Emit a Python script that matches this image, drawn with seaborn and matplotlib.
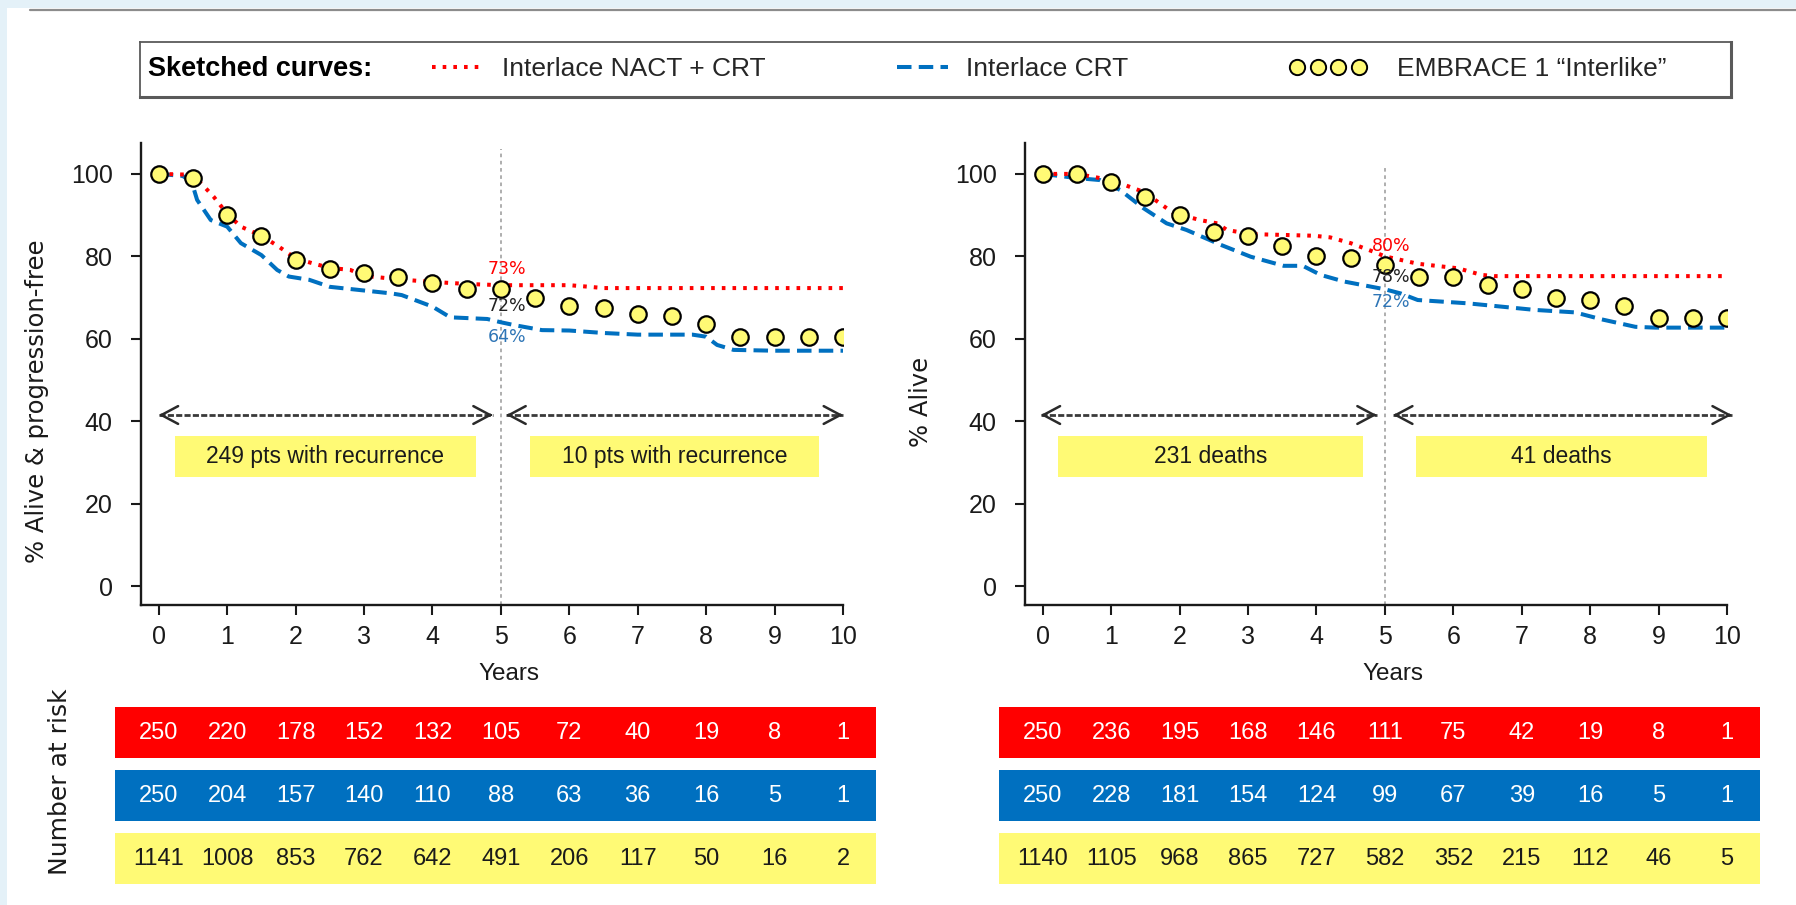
import matplotlib
matplotlib.use("Agg")
import matplotlib.pyplot as plt
from matplotlib.lines import Line2D
from matplotlib.legend import Legend
from matplotlib.patches import Rectangle
import numpy as np
import seaborn as sns

# ---------------- data ----------------
half_years = [0, 0.5, 1, 1.5, 2, 2.5, 3, 3.5, 4, 4.5, 5,
              5.5, 6, 6.5, 7, 7.5, 8, 8.5, 9, 9.5, 10]

# EMBRACE 1 "Interlike" cohort (yellow dots)
embrace_pfs = [100, 99, 90, 85, 79, 77, 76, 75, 73.5, 72, 72,
               70, 68, 67.5, 66, 65.5, 63.5, 60.5, 60.5, 60.5, 60.5]
embrace_os = [100, 100, 98, 94.5, 90, 86, 85, 82.5, 80, 79.5, 78,
              75, 75, 73, 72, 70, 69.5, 68, 65, 65, 65]

# Interlace NACT + CRT, progression-free survival (sketched)
nact_pfs_t = [0, 0.5, 0.8, 1, 1.2, 1.5, 1.75, 2, 2.25, 2.5, 2.8, 3,
              3.5, 4, 4.5, 5, 6, 6.3, 6.5, 10]
nact_pfs = [100, 99.8, 94.5, 90.3, 87.2, 85, 82.4, 79.5, 78.3, 77.2, 76.7, 75.3,
            74.4, 73.8, 73.3, 73, 73, 72.6, 72.3, 72.3]

# Interlace CRT, progression-free survival (sketched)
crt_pfs_t = [0, 0.35, 0.48, 0.56, 0.76, 1.0, 1.2, 1.5, 1.73, 1.9, 2.2, 2.5,
             2.95, 3.4, 3.55, 4.0, 4.26, 4.8, 5.0, 5.2, 5.6, 6.0, 6.5, 7.0,
             7.8, 8.0, 8.16, 8.4, 9.0, 10]
crt_pfs = [100, 99.5, 98.1, 93.7, 88.8, 87.2, 83.2, 80.3, 76.7, 75.1, 74.3, 72.6,
           71.8, 71.0, 70.6, 67.8, 65.2, 64.8, 64.0, 63.3, 62.1, 62.0, 61.4, 61.0,
           61.0, 60.5, 58.5, 57.3, 57.1, 57.1]

# Interlace NACT + CRT, overall survival (sketched)
nact_os_t = [0, 0.5, 1.0, 1.48, 1.91, 2.3, 2.55, 2.69, 3.04, 3.5, 3.96, 4.2,
             4.5, 4.82, 5.0, 5.48, 6.07, 6.41, 6.6, 10]
nact_os = [100, 100, 98.5, 95.6, 90.5, 88.8, 88.0, 86.4, 85.4, 85.2, 85.0, 84.6,
           83.2, 81.2, 80.0, 78.2, 77.1, 75.5, 75.2, 75.2]

# Interlace CRT, overall survival (sketched)
crt_os_t = [0, 0.49, 0.84, 1.13, 1.47, 1.81, 2.1, 2.6, 3.04, 3.52, 3.8, 4.06,
            4.4, 5.0, 5.23, 5.48, 6.21, 7.19, 7.78, 8.17, 8.66, 8.95, 10]
crt_os = [100, 99.0, 98.5, 96.1, 91.7, 88.0, 86.4, 82.8, 79.9, 77.7, 77.7, 75.5,
          73.9, 72.0, 71.0, 69.4, 68.6, 67.0, 66.4, 64.7, 62.9, 62.7, 62.7]

# Numbers at risk
risk_years = [0, 1, 2, 3, 4, 5, 6, 7, 8, 9, 10]
risk_pfs_nact = [250, 220, 178, 152, 132, 105, 72, 40, 19, 8, 1]
risk_pfs_crt = [250, 204, 157, 140, 110, 88, 63, 36, 16, 5, 1]
risk_pfs_embrace = [1141, 1008, 853, 762, 642, 491, 206, 117, 50, 16, 2]
risk_os_nact = [250, 236, 195, 168, 146, 111, 75, 42, 19, 8, 1]
risk_os_crt = [250, 228, 181, 154, 124, 99, 67, 39, 16, 5, 1]
risk_os_embrace = [1140, 1105, 968, 865, 727, 582, 352, 215, 112, 46, 5]

tick_years = [0, 1, 2, 3, 4, 5, 6, 7, 8, 9, 10]
tick_pct = [0, 20, 40, 60, 80, 100]

landmark_year = 5
pfs_periods = [(0.0, 4.88), (5.08, 10.0)]
os_periods = [(-0.03, 4.88), (5.12, 10.07)]
pfs_notes = ["249 pts with recurrence", "10 pts with recurrence"]
os_notes = ["231 deaths", "41 deaths"]
pfs_note_spans = [(0.23, 4.63), (5.43, 9.65)]
os_note_spans = [(0.22, 4.68), (5.45, 9.71)]

legend_labels = ["Interlace NACT + CRT", "Interlace CRT", "EMBRACE 1 \u201cInterlike\u201d"]

# ---------------- style ----------------
RED = "#FF0000"
BLUE = "#0070C0"
LABEL_BLUE = "#2E75B6"
YELLOW = "#FFFA75"
INK = "#1a1a1a"
SKY = "#E4F1F8"

sns.set_theme(style="ticks")
plt.rcParams["font.family"] = ["DejaVu Sans"]
plt.rcParams["lines.dash_capstyle"] = "butt"

BODY = ["Liberation Sans", "DejaVu Sans"]

W, H = 1796, 905
fig = plt.figure(figsize=(W / 100, H / 100), dpi=100, facecolor="white")


def px_axes(left, top, right, bottom):
    return fig.add_axes([left / W, 1 - bottom / H, (right - left) / W, (bottom - top) / H])


# page frame: pale blue margins and a thin rule at the top
fig.patches.append(Rectangle((0, 0), 7 / W, 1, transform=fig.transFigure,
                             facecolor=SKY, edgecolor="none", zorder=0))
fig.patches.append(Rectangle((0, 1 - 8 / H), 1, 8 / H, transform=fig.transFigure,
                             facecolor=SKY, edgecolor="none", zorder=0))
fig.add_artist(Line2D([30 / W, 1], [1 - 10 / H, 1 - 10 / H], color="#8c8c8c", lw=1.6))

XLIM = (-0.26, 10)
YLIM = (-4.6, 107.5)

NACT_STYLE = dict(color=RED, lw=2.9, linestyle=(0, (0.9, 1.75)))
CRT_STYLE = dict(color=BLUE, lw=2.9, linestyle=(0, (3.6, 1.8)))


def draw_panel(ax, nact_t, nact_v, crt_t, crt_v, emb_v, ylabel,
               periods, notes, spans, vline_top, offsets):
    sns.lineplot(x=crt_t, y=crt_v, ax=ax, estimator=None, sort=False, zorder=3, **CRT_STYLE)
    sns.lineplot(x=nact_t, y=nact_v, ax=ax, estimator=None, sort=False, zorder=4, **NACT_STYLE)
    sns.scatterplot(x=half_years, y=emb_v, ax=ax, s=140, color=YELLOW,
                    edgecolor="black", linewidth=1.6, zorder=5)

    ax.set_xlim(*XLIM)
    ax.set_ylim(*YLIM)
    ax.set_xticks(tick_years)
    ax.set_yticks(tick_pct)
    sns.despine(ax=ax)
    for side in ("left", "bottom"):
        ax.spines[side].set_linewidth(1.7)
        ax.spines[side].set_color(INK)
    ax.tick_params(axis="both", direction="out", length=7.5, width=1.5, color=INK,
                   labelsize=18, labelcolor=INK)
    ax.tick_params(axis="y", pad=13)
    ax.tick_params(axis="x", pad=7)
    for lab in ax.get_xticklabels() + ax.get_yticklabels():
        lab.set_family(BODY)

    ax.set_xlabel("Years", fontsize=17.5, family=BODY, color=INK)
    ax.xaxis.set_label_coords(0.524, -0.125)
    ax.set_ylabel(ylabel, fontsize=17.5, color=INK)
    ax.yaxis.set_label_coords(-0.131, 0.44)

    # landmark at 5 years
    ax.axvline(landmark_year, ymin=0, ymax=(vline_top - YLIM[0]) / (YLIM[1] - YLIM[0]),
               color="#a8a8a8", lw=1.3, ls=(0, (2, 2)), zorder=1)

    # period arrows and event counts
    arrow_y = 41.5
    for (x0, x1) in periods:
        ax.plot([x0, x1], [arrow_y, arrow_y], color="#3a3a3a", lw=2.0,
                ls=(0, (2.2, 0.8)), clip_on=False, zorder=2)
        for tip, back in ((x0, x0 + 0.05), (x1, x1 - 0.05)):
            ax.annotate("", xy=(tip, arrow_y), xytext=(back, arrow_y),
                        arrowprops=dict(arrowstyle="->,head_length=0.6,head_width=0.32",
                                        color="#2a2a2a", lw=1.8, shrinkA=0, shrinkB=0,
                                        mutation_scale=20),
                        annotation_clip=False)
    for text, (x0, x1) in zip(notes, spans):
        ax.add_patch(Rectangle((x0, 26.5), x1 - x0, 9.9, facecolor=YELLOW,
                               edgecolor="none", zorder=2))
        ax.text((x0 + x1) / 2, 31.45, text, ha="center", va="center",
                fontsize=16.5, family=BODY, color=INK, zorder=3)

    # 5-year values
    v_nact = np.interp(landmark_year, nact_t, nact_v)
    v_crt = np.interp(landmark_year, crt_t, crt_v)
    v_emb = emb_v[half_years.index(landmark_year)]
    for val, off, col in ((v_nact, offsets[0], RED), (v_emb, offsets[1], "#222222"),
                          (v_crt, offsets[2], LABEL_BLUE)):
        ax.text(landmark_year + 0.09, val + off, f"{val:.0f}%", ha="center", va="center",
                fontsize=12.5, color=col, zorder=6)


ax_pfs = px_axes(141, 143, 843, 605)
ax_os = px_axes(1025, 143, 1727, 605)
draw_panel(ax_pfs, nact_pfs_t, nact_pfs, crt_pfs_t, crt_pfs, embrace_pfs,
           "% Alive & progression-free", pfs_periods, pfs_notes, pfs_note_spans,
           106, (3.9, -4.0, -3.6))
draw_panel(ax_os, nact_os_t, nact_os, crt_os_t, crt_os, embrace_os,
           "% Alive", os_periods, os_notes, os_note_spans,
           102, (2.4, -2.9, -3.2))

# ---------------- numbers at risk ----------------
px_per_year = (843 - 141) / (XLIM[1] - XLIM[0])


def draw_risk_table(left, right, plot_left, rows):
    ax = px_axes(left, 707, right, 884)
    zero_px = plot_left - XLIM[0] * px_per_year
    ax.set_xlim((left - zero_px) / px_per_year, (right - zero_px) / px_per_year)
    ax.set_ylim(177, 0)
    ax.axis("off")
    for i, (vals, face, ink) in enumerate(rows):
        top = i * 63
        ax.axhspan(top, top + 51, facecolor=face, edgecolor="none")
        for yr, v in zip(risk_years, vals):
            ax.text(yr, top + 26, str(v), ha="center", va="center",
                    fontsize=17, family=BODY, color=ink)


draw_risk_table(115, 876, 141, [(risk_pfs_nact, RED, "white"),
                                (risk_pfs_crt, BLUE, "white"),
                                (risk_pfs_embrace, YELLOW, INK)])
draw_risk_table(999, 1760, 1025, [(risk_os_nact, RED, "white"),
                                  (risk_os_crt, BLUE, "white"),
                                  (risk_os_embrace, YELLOW, INK)])
fig.text(60 / W, 1 - 782 / H, "Number at risk", rotation=90, ha="center",
         va="center", fontsize=18, color=INK)

# ---------------- legend strip ----------------
LEG_L, LEG_R = 140, 1731
ax_leg = px_axes(LEG_L, 42, LEG_R, 97)
ax_leg.set_xticks([])
ax_leg.set_yticks([])
ax_leg.set_facecolor("white")
for side in ("top", "left"):
    ax_leg.spines[side].set_linewidth(1.3)
    ax_leg.spines[side].set_color("#5a5a5a")
for side in ("bottom", "right"):
    ax_leg.spines[side].set_linewidth(2.2)
    ax_leg.spines[side].set_color("#5a5a5a")

leg_w = LEG_R - LEG_L
ax_leg.text(8 / leg_w, 0.5, "Sketched curves:", transform=ax_leg.transAxes,
            ha="left", va="center", fontsize=19.5, family=BODY,
            fontweight="bold", color="black")

leg_fs = 19
fs_px = leg_fs * 100 / 72
handles = [
    Line2D([], [], **NACT_STYLE),
    Line2D([], [], **CRT_STYLE),
    Line2D([], [], ls="none", marker="o", ms=11, mfc=YELLOW, mec="black", mew=1.4),
]
starts = [424, 889, 1289]
hlens = [67, 67, 78]
gaps = [11, 10, 30]
for h, lab, x0, hl, gp in zip(handles, legend_labels, starts, hlens, gaps):
    lg = Legend(ax_leg, [h], [lab], loc="center left",
                bbox_to_anchor=((x0 - LEG_L) / leg_w, 0.5), bbox_transform=ax_leg.transAxes,
                frameon=False, handlelength=hl / fs_px, handletextpad=gp / fs_px,
                borderpad=0, borderaxespad=0, numpoints=4,
                prop={"family": BODY, "size": leg_fs})
    ax_leg.add_artist(lg)

fig.savefig("out.png", dpi=100, facecolor="white")
